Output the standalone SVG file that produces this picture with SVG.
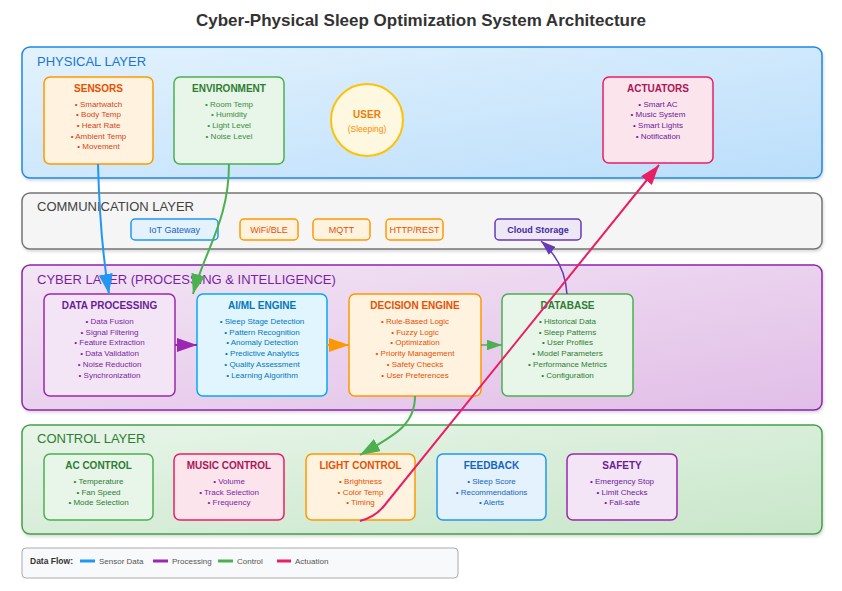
<svg xmlns="http://www.w3.org/2000/svg" width="842" height="591" viewBox="0 0 842 591">
<style>
text{font-family:"Liberation Sans",Arial,sans-serif}
.ttl{font-size:17px;font-weight:bold;fill:#333;text-anchor:middle}
.lay{font-size:13px;font-weight:500}
.bt{font-size:10px;font-weight:bold;text-anchor:middle}
.it{font-size:8px;text-anchor:middle}
.cb{font-size:9px;text-anchor:middle}
.box{stroke-width:1.5}
.lg{font-size:8px;fill:#555}
.cn{fill:none}
</style>
<defs>
<linearGradient id="gPhy" x1="0" y1="0" x2="1" y2="1"><stop offset="0" stop-color="#e3f2fd"/><stop offset="1" stop-color="#bbdefb"/></linearGradient>
<linearGradient id="gCyb" x1="0" y1="0" x2="1" y2="1"><stop offset="0" stop-color="#f3e5f5"/><stop offset="1" stop-color="#e1bee7"/></linearGradient>
<linearGradient id="gCtl" x1="0" y1="0" x2="1" y2="1"><stop offset="0" stop-color="#e8f5e9"/><stop offset="1" stop-color="#c8e6c9"/></linearGradient>
<filter id="sh" x="-5%" y="-10%" width="110%" height="130%"><feDropShadow dx="1" dy="2" stdDeviation="1.5" flood-color="#000" flood-opacity="0.15"/></filter>
<marker id="aBlue" viewBox="0 0 10 7" refX="10" refY="3.5" markerWidth="10" markerHeight="7" orient="auto"><polygon points="0 0,10 3.5,0 7" fill="#2196f3"/></marker>
<marker id="aGreen" viewBox="0 0 10 7" refX="10" refY="3.5" markerWidth="10" markerHeight="7" orient="auto"><polygon points="0 0,10 3.5,0 7" fill="#4caf50"/></marker>
<marker id="aPurple" viewBox="0 0 10 7" refX="10" refY="3.5" markerWidth="10" markerHeight="7" orient="auto"><polygon points="0 0,10 3.5,0 7" fill="#9c27b0"/></marker>
<marker id="aViolet" viewBox="0 0 10 7" refX="10" refY="3.5" markerWidth="10" markerHeight="7" orient="auto"><polygon points="0 0,10 3.5,0 7" fill="#673ab7"/></marker>
<marker id="aOrange" viewBox="0 0 10 7" refX="10" refY="3.5" markerWidth="10" markerHeight="7" orient="auto"><polygon points="0 0,10 3.5,0 7" fill="#ff9800"/></marker>
<marker id="aPink" viewBox="0 0 10 7" refX="10" refY="3.5" markerWidth="10" markerHeight="7" orient="auto"><polygon points="0 0,10 3.5,0 7" fill="#e91e63"/></marker>
</defs>
<rect width="842" height="591" fill="#ffffff"/>
<text class="ttl" x="421" y="26">Cyber-Physical Sleep Optimization System Architecture</text>

<g id="layers">
<g id="physical-layer"><rect x="22" y="47" width="800" height="131" rx="8" fill="url(#gPhy)" stroke="#1e88e5" stroke-width="1.5" filter="url(#sh)"/><text class="lay" x="37" y="66" fill="#1976d2">PHYSICAL LAYER</text></g>
<g id="communication-layer"><rect x="22" y="193" width="800" height="56" rx="8" fill="#f5f5f5" stroke="#757575" stroke-width="1.5" filter="url(#sh)"/><text class="lay" x="37" y="211" fill="#424242">COMMUNICATION LAYER</text></g>
<g id="cyber-layer"><rect x="22" y="265" width="800" height="145" rx="8" fill="url(#gCyb)" stroke="#8e24aa" stroke-width="1.5" filter="url(#sh)"/><text class="lay" x="37" y="284" fill="#7b1fa2">CYBER LAYER (PROCESSING &amp; INTELLIGENCE)</text></g>
<g id="control-layer"><rect x="22" y="425" width="800" height="109" rx="8" fill="url(#gCtl)" stroke="#43a047" stroke-width="1.5" filter="url(#sh)"/><text class="lay" x="37" y="443" fill="#2e7d32">CONTROL LAYER</text></g>
</g>

<g id="sensors">
<rect class="box" x="44" y="77" width="109" height="87" rx="6" fill="#fff3e0" stroke="#ff9800"/>
<text class="bt" x="98.5" y="91.5" fill="#e65100">SENSORS</text>
<g class="it" fill="#d84315"><text x="98.5" y="106.5">• Smartwatch</text><text x="98.5" y="117.2">• Body Temp</text><text x="98.5" y="127.9">• Heart Rate</text><text x="98.5" y="138.6">• Ambient Temp</text><text x="98.5" y="149.3">• Movement</text></g>
</g>
<g id="environment">
<rect class="box" x="174" y="77" width="110" height="87" rx="6" fill="#e8f5e9" stroke="#4caf50"/>
<text class="bt" x="229" y="91.5" fill="#2e7d32">ENVIRONMENT</text>
<g class="it" fill="#388e3c"><text x="229" y="106.5">• Room Temp</text><text x="229" y="117.2">• Humidity</text><text x="229" y="127.9">• Light Level</text><text x="229" y="138.6">• Noise Level</text></g>
</g>
<g id="user">
<circle cx="367" cy="120" r="36" fill="#fff8e1" stroke="#ffc107" stroke-width="2"/>
<text class="bt" x="367" y="117.5" fill="#f57c00">USER</text>
<text x="367" y="131.5" font-size="8.5" text-anchor="middle" fill="#fb8c00">(Sleeping)</text>
</g>
<g id="actuators">
<rect class="box" x="603" y="77" width="110" height="86" rx="6" fill="#fce4ec" stroke="#e91e63"/>
<text class="bt" x="658" y="91.5" fill="#ad1457">ACTUATORS</text>
<g class="it" fill="#6a1b9a"><text x="658" y="106.5">• Smart AC</text><text x="658" y="117.2">• Music System</text><text x="658" y="127.9">• Smart Lights</text><text x="658" y="138.6">• Notification</text></g>
</g>

<g id="iot-gateway"><rect x="131" y="219" width="87" height="21" rx="4" fill="#e3f2fd" stroke="#2196f3" stroke-width="1.5"/><text class="cb" x="174.5" y="232.5" fill="#1565c0">IoT Gateway</text></g>
<g id="wifi-ble"><rect x="240" y="219" width="58" height="21" rx="4" fill="#fff3e0" stroke="#ff9800" stroke-width="1.5"/><text class="cb" x="269" y="232.5" fill="#e65100">WiFi/BLE</text></g>
<g id="mqtt"><rect x="313" y="219" width="57" height="21" rx="4" fill="#fff3e0" stroke="#ff9800" stroke-width="1.5"/><text class="cb" x="341.5" y="232.5" fill="#e65100">MQTT</text></g>
<g id="http-rest"><rect x="386" y="219" width="57" height="21" rx="4" fill="#fff3e0" stroke="#ff9800" stroke-width="1.5"/><text class="cb" x="414.5" y="232.5" fill="#e65100">HTTP/REST</text></g>
<g id="cloud-storage"><rect x="495" y="219" width="86" height="21" rx="4" fill="#ede7f6" stroke="#673ab7" stroke-width="1.5"/><text class="cb" x="538" y="232.5" fill="#4527a0" font-weight="bold">Cloud Storage</text></g>

<g id="data-processing">
<rect class="box" x="44" y="294" width="131" height="102" rx="6" fill="#f3e5f5" stroke="#9c27b0"/>
<text class="bt" x="109.5" y="309" fill="#6a1b9a">DATA PROCESSING</text>
<g class="it" fill="#7b1fa2"><text x="109.5" y="324">• Data Fusion</text><text x="109.5" y="334.7">• Signal Filtering</text><text x="109.5" y="345.4">• Feature Extraction</text><text x="109.5" y="356.1">• Data Validation</text><text x="109.5" y="366.8">• Noise Reduction</text><text x="109.5" y="377.5">• Synchronization</text></g>
</g>
<g id="ai-ml-engine">
<rect class="box" x="197" y="294" width="130" height="102" rx="6" fill="#e1f5fe" stroke="#03a9f4"/>
<text class="bt" x="262" y="309" fill="#0277bd">AI/ML ENGINE</text>
<g class="it" fill="#0277bd"><text x="262" y="324">• Sleep Stage Detection</text><text x="262" y="334.7">• Pattern Recognition</text><text x="262" y="345.4">• Anomaly Detection</text><text x="262" y="356.1">• Predictive Analytics</text><text x="262" y="366.8">• Quality Assessment</text><text x="262" y="377.5">• Learning Algorithm</text></g>
</g>
<g id="decision-engine">
<rect class="box" x="349" y="294" width="132" height="102" rx="6" fill="#fff3e0" stroke="#ff9800"/>
<text class="bt" x="415" y="309" fill="#e65100">DECISION ENGINE</text>
<g class="it" fill="#e65100"><text x="415" y="324">• Rule-Based Logic</text><text x="415" y="334.7">• Fuzzy Logic</text><text x="415" y="345.4">• Optimization</text><text x="415" y="356.1">• Priority Management</text><text x="415" y="366.8">• Safety Checks</text><text x="415" y="377.5">• User Preferences</text></g>
</g>
<g id="database">
<rect class="box" x="502" y="294" width="131" height="102" rx="6" fill="#e8f5e9" stroke="#4caf50"/>
<text class="bt" x="567.5" y="309" fill="#2e7d32">DATABASE</text>
<g class="it" fill="#2e7d32"><text x="567.5" y="324">• Historical Data</text><text x="567.5" y="334.7">• Sleep Patterns</text><text x="567.5" y="345.4">• User Profiles</text><text x="567.5" y="356.1">• Model Parameters</text><text x="567.5" y="366.8">• Performance Metrics</text><text x="567.5" y="377.5">• Configuration</text></g>
</g>

<g id="ac-control">
<rect class="box" x="44" y="454" width="109" height="66" rx="6" fill="#e8f5e9" stroke="#4caf50"/>
<text class="bt" x="98.5" y="469" fill="#2e7d32">AC CONTROL</text>
<g class="it" fill="#2e7d32"><text x="98.5" y="484">• Temperature</text><text x="98.5" y="494.5">• Fan Speed</text><text x="98.5" y="505">• Mode Selection</text></g>
</g>
<g id="music-control">
<rect class="box" x="174" y="454" width="110" height="66" rx="6" fill="#fce4ec" stroke="#e91e63"/>
<text class="bt" x="229" y="469" fill="#ad1457">MUSIC CONTROL</text>
<g class="it" fill="#7b1fa2"><text x="229" y="484">• Volume</text><text x="229" y="494.5">• Track Selection</text><text x="229" y="505">• Frequency</text></g>
</g>
<g id="light-control">
<rect class="box" x="306" y="454" width="109" height="66" rx="6" fill="#fff3e0" stroke="#ff9800"/>
<text class="bt" x="360.5" y="469" fill="#e65100">LIGHT CONTROL</text>
<g class="it" fill="#e65100"><text x="360.5" y="484">• Brightness</text><text x="360.5" y="494.5">• Color Temp</text><text x="360.5" y="505">• Timing</text></g>
</g>
<g id="feedback">
<rect class="box" x="437" y="454" width="109" height="66" rx="6" fill="#e3f2fd" stroke="#2196f3"/>
<text class="bt" x="491.5" y="469" fill="#1565c0">FEEDBACK</text>
<g class="it" fill="#1565c0"><text x="491.5" y="484">• Sleep Score</text><text x="491.5" y="494.5">• Recommendations</text><text x="491.5" y="505">• Alerts</text></g>
</g>
<g id="safety">
<rect class="box" x="567" y="454" width="110" height="66" rx="6" fill="#f3e5f5" stroke="#9c27b0"/>
<text class="bt" x="622" y="469" fill="#6a1b9a">SAFETY</text>
<g class="it" fill="#6a1b9a"><text x="622" y="484">• Emergency Stop</text><text x="622" y="494.5">• Limit Checks</text><text x="622" y="505">• Fail-safe</text></g>
</g>

<g id="connectors">
<path class="cn" d="M 98 164 Q 100 240 109 294" stroke="#2196f3" stroke-width="2" marker-end="url(#aBlue)"/>
<path class="cn" d="M 229 164 C 229 220 205 250 193 294" stroke="#4caf50" stroke-width="2" marker-end="url(#aGreen)"/>
<line x1="175" y1="345" x2="197" y2="345" stroke="#9c27b0" stroke-width="2" marker-end="url(#aPurple)"/>
<line x1="327" y1="345" x2="349" y2="345" stroke="#ff9800" stroke-width="2" marker-end="url(#aOrange)"/>
<line x1="481" y1="345" x2="502" y2="345" stroke="#4caf50" stroke-width="1.5" marker-end="url(#aGreen)"/>
<path class="cn" d="M 567 294 Q 565 262 541 241" stroke="#673ab7" stroke-width="1.5" marker-end="url(#aViolet)"/>
<path class="cn" d="M 415 396 C 415 425 395 435 360 455" stroke="#4caf50" stroke-width="2" marker-end="url(#aGreen)"/>
<path class="cn" d="M 360 521 Q 375 517 384 506 L 659 165" stroke="#e91e63" stroke-width="2" marker-end="url(#aPink)"/>
</g>

<g id="legend">
<rect x="22" y="548" width="436" height="30" rx="4" fill="#f8f9fa" stroke="#aaaaaa" stroke-width="1"/>
<text x="30" y="564" font-size="8.5" font-weight="bold" fill="#333">Data Flow:</text>
<line x1="80" y1="561" x2="95" y2="561" stroke="#2196f3" stroke-width="3"/><text class="lg" x="99" y="564">Sensor Data</text>
<line x1="153" y1="561" x2="168" y2="561" stroke="#9c27b0" stroke-width="3"/><text class="lg" x="172" y="564">Processing</text>
<line x1="218" y1="561" x2="233" y2="561" stroke="#4caf50" stroke-width="3"/><text class="lg" x="237" y="564">Control</text>
<line x1="277" y1="561" x2="291" y2="561" stroke="#e91e63" stroke-width="3"/><text class="lg" x="295" y="564">Actuation</text>
</g>
</svg>
